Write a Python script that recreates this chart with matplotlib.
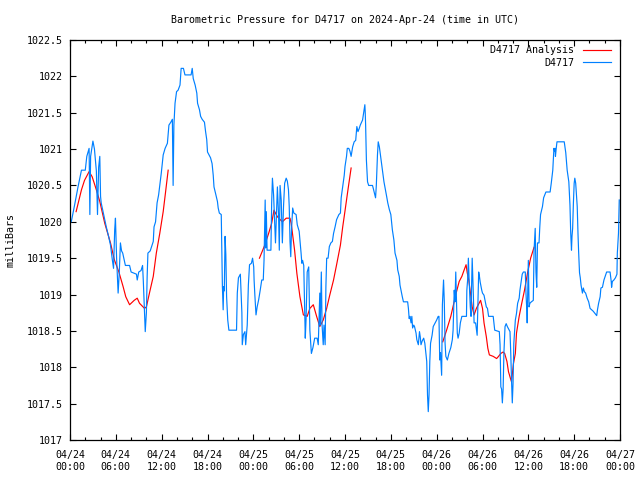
import numpy as np
import matplotlib
matplotlib.use('Agg')
from matplotlib import pyplot as plt
import matplotlib.dates as mdates

#--données (heures depuis 2024-04-24 00:00 UTC, mbar)-------------------------
h_obs = [0.0, 0.17, 0.6, 1.05, 1.5, 2.0, 2.2, 2.5, 2.6, 2.7, 3.0, 3.2, 3.45, 3.6, 3.75, 3.9,
         4.0, 4.1, 4.4, 4.75, 5.05, 5.3, 5.55, 5.7, 5.85, 5.95, 6.1, 6.3, 6.45, 6.6, 6.75, 6.9,
         7.25, 7.8, 8.0, 8.7, 8.8, 9.0, 9.3, 9.5, 9.6, 9.75, 9.85, 10.0, 10.1, 10.2, 10.5, 10.9,
         11.0, 11.2, 11.4, 11.6, 11.75, 11.95, 12.2, 12.45, 12.75, 12.95, 13.2, 13.4, 13.5, 13.6,
         13.75, 13.95, 14.15, 14.4, 14.55, 14.85, 15.05, 15.85, 16.0, 16.15, 16.4, 16.6, 16.7,
         16.95, 17.1, 17.3, 17.6, 17.75, 17.9, 18.0, 18.2, 18.4, 18.6, 18.75, 18.85, 19.0, 19.1,
         19.3, 19.4, 19.55, 19.8, 19.85, 19.95, 20.05, 20.12, 20.2, 20.3, 20.4, 20.5, 20.65, 20.8,
         21.8, 21.9, 22.05, 22.3, 22.4, 22.5, 22.55, 22.7, 22.9, 23.0, 23.2, 23.35, 23.5, 23.75,
         23.9, 24.05, 24.1, 24.2, 24.35, 24.5, 24.7, 24.9, 25.1, 25.3, 25.4, 25.5, 25.55, 25.62,
         25.7, 25.8, 26.3, 26.4, 26.5, 26.65, 26.9, 27.0, 27.15, 27.3, 27.4, 27.5, 27.65, 27.8,
         27.95, 28.1, 28.3, 28.45, 28.6, 28.7, 28.8, 28.9, 29.0, 29.15, 29.3, 29.6, 29.75, 30.0,
         30.1, 30.25, 30.35, 30.45, 30.6, 30.7, 30.8, 30.9, 31.05, 31.25, 31.3, 31.4, 31.6, 31.8,
         32.05, 32.35, 32.5, 32.7, 32.78, 32.9, 33.0, 33.15, 33.25, 33.4, 33.5, 33.6, 33.8, 33.95,
         34.15, 34.35, 34.5, 34.7, 34.9, 35.2, 35.4, 35.5, 35.7, 35.9, 36.0, 36.2, 36.3, 36.5,
         36.65, 36.8, 37.0, 37.2, 37.4, 37.5, 37.55, 37.7, 37.85, 38.0, 38.3, 38.5, 38.6, 38.65,
         38.7, 38.8, 38.95, 39.1, 39.6, 39.7, 39.9, 40.0, 40.1, 40.25, 40.35, 40.5, 40.6, 40.8,
         41.0, 41.1, 41.3, 41.45, 41.6, 41.8, 42.0, 42.2, 42.4, 42.55, 42.8, 42.9, 43.1, 43.2,
         43.35, 43.5, 43.65, 44.2, 44.3, 44.4, 44.5, 44.65, 44.75, 44.85, 45.0, 45.1, 45.3, 45.4,
         45.6, 45.75, 45.85, 45.95, 46.1, 46.3, 46.45, 46.7, 46.8, 46.9, 47.0, 47.1, 47.2, 47.4,
         47.55, 47.75, 48.0, 48.2, 48.3, 48.4, 48.5, 48.65, 48.75, 48.9, 49.0, 49.1, 49.2, 49.4,
         49.6, 49.85, 50.05, 50.15, 50.3, 50.4, 50.5, 50.6, 50.7, 50.8, 50.95, 51.1, 51.3, 51.9,
         51.95, 52.05, 52.15, 52.25, 52.4, 52.5, 52.55, 52.65, 52.8, 52.9, 53.1, 53.3, 53.4, 53.5,
         53.6, 53.7, 53.9, 54.0, 54.2, 54.5, 54.65, 54.8, 55.4, 55.5, 55.6, 56.2, 56.3, 56.4, 56.5,
         56.6, 56.7, 56.8, 56.95, 57.1, 57.25, 57.5, 57.6, 57.7, 57.8, 57.9, 58.0, 58.1, 58.3,
         58.45, 58.6, 58.8, 58.9, 59.2, 59.35, 59.6, 59.7, 59.8, 59.85, 60.0, 60.1, 60.2, 60.4,
         60.65, 60.75, 60.9, 61.0, 61.1, 61.2, 61.4, 61.5, 61.6, 61.85, 62.0, 62.3, 62.85, 63.0,
         63.2, 63.35, 63.45, 63.5, 63.55, 63.65, 63.75, 64.7, 64.9, 65.1, 65.3, 65.45, 65.55,
         65.65, 65.72, 65.8, 65.9, 66.0, 66.1, 66.2, 66.4, 66.5, 66.6, 66.7, 66.8, 66.9, 67.1,
         67.2, 67.35, 67.5, 67.7, 67.9, 68.1, 68.3, 68.5, 68.95, 69.05, 69.2, 69.4, 69.5, 69.7,
         69.9, 70.25, 70.7, 70.85, 70.9, 71.0, 71.2, 71.4, 71.6, 71.65, 71.8, 71.9]
p_obs = [1020.0, 1020.0, 1020.23, 1020.48, 1020.71, 1020.71, 1020.9, 1021.01, 1020.1, 1020.9,
         1021.11, 1021.0, 1020.7, 1020.1, 1020.75, 1020.9, 1020.35, 1020.26, 1020.1, 1019.93,
         1019.8, 1019.68, 1019.47, 1019.36, 1019.89, 1020.05, 1019.5, 1019.02, 1019.3, 1019.71,
         1019.6, 1019.57, 1019.4, 1019.4, 1019.31, 1019.28, 1019.2, 1019.31, 1019.33, 1019.4,
         1019.18, 1018.75, 1018.49, 1018.75, 1019.25, 1019.57, 1019.6, 1019.73, 1019.93, 1020.0,
         1020.26, 1020.37, 1020.5, 1020.67, 1020.92, 1021.01, 1021.08, 1021.33, 1021.37, 1021.41,
         1020.5, 1021.33, 1021.63, 1021.79, 1021.81, 1021.88, 1022.11, 1022.11, 1022.02, 1022.02,
         1022.11, 1021.97, 1021.88, 1021.77, 1021.63, 1021.54, 1021.45, 1021.41, 1021.37, 1021.24,
         1021.13, 1020.96, 1020.92, 1020.88, 1020.8, 1020.64, 1020.48, 1020.41, 1020.37, 1020.28,
         1020.19, 1020.12, 1020.1, 1019.78, 1019.11, 1018.79, 1019.11, 1019.05, 1019.8, 1019.55,
         1018.97, 1018.65, 1018.51, 1018.51, 1019.02, 1019.23, 1019.28, 1019.02, 1018.75, 1018.31,
         1018.45, 1018.49, 1018.31, 1018.58, 1019.13, 1019.41, 1019.43, 1019.5, 1019.38, 1019.2,
         1018.99, 1018.72, 1018.83, 1018.93, 1019.06, 1019.2, 1019.2, 1019.47, 1020.03, 1020.3,
         1019.64, 1020.14, 1019.61, 1019.61, 1020.26, 1020.6, 1020.37, 1019.71, 1020.03, 1020.48,
         1020.1, 1019.61, 1020.5, 1020.3, 1019.71, 1020.21, 1020.53, 1020.6, 1020.56, 1020.44,
         1020.21, 1019.73, 1019.52, 1019.89, 1020.19, 1020.12, 1020.1, 1019.96, 1019.87, 1019.75,
         1019.57, 1019.43, 1019.47, 1019.4, 1018.93, 1018.4, 1018.65, 1019.31, 1019.38, 1019.1,
         1018.51, 1018.19, 1018.27, 1018.4, 1018.4, 1018.31, 1019.02, 1018.58, 1019.31, 1018.58,
         1018.31, 1018.58, 1018.31, 1019.11, 1019.5, 1019.5, 1019.66, 1019.71, 1019.73, 1019.84,
         1019.93, 1020.03, 1020.1, 1020.12, 1020.33, 1020.48, 1020.64, 1020.76, 1020.9, 1021.01,
         1021.01, 1020.97, 1020.9, 1021.03, 1021.1, 1021.12, 1021.26, 1021.31, 1021.24, 1021.28,
         1021.33, 1021.4, 1021.54, 1021.61, 1021.5, 1021.33, 1020.85, 1020.55, 1020.5, 1020.5,
         1020.46, 1020.37, 1020.33, 1020.5, 1020.92, 1021.1, 1021.03, 1020.95, 1020.78, 1020.64,
         1020.55, 1020.44, 1020.35, 1020.26, 1020.17, 1020.1, 1019.89, 1019.75, 1019.57, 1019.47,
         1019.34, 1019.25, 1019.13, 1019.05, 1018.97, 1018.9, 1018.9, 1018.81, 1018.67, 1018.7,
         1018.61, 1018.7, 1018.54, 1018.58, 1018.56, 1018.47, 1018.38, 1018.31, 1018.49, 1018.42,
         1018.31, 1018.36, 1018.4, 1018.33, 1018.08, 1017.62, 1017.39, 1017.62, 1018.08, 1018.33,
         1018.44, 1018.56, 1018.6, 1018.65, 1018.7, 1018.7, 1018.1, 1018.2, 1017.89, 1018.86,
         1019.2, 1018.9, 1018.33, 1018.15, 1018.1, 1018.19, 1018.27, 1018.38, 1018.51, 1019.06,
         1018.9, 1019.31, 1018.9, 1018.47, 1018.4, 1018.47, 1018.61, 1018.7, 1018.7, 1019.06,
         1019.2, 1019.5, 1019.2, 1018.83, 1018.7, 1019.0, 1019.5, 1019.0, 1018.61, 1018.61,
         1018.44, 1018.86, 1019.31, 1019.25, 1019.17, 1019.06, 1019.02, 1018.99, 1018.83, 1018.81,
         1018.7, 1018.7, 1018.61, 1018.51, 1018.49, 1018.31, 1017.73, 1017.7, 1017.51, 1017.7,
         1018.19, 1018.56, 1018.6, 1018.56, 1018.51, 1018.49, 1018.19, 1017.82, 1017.51, 1017.78,
         1018.33, 1018.65, 1018.74, 1018.88, 1018.95, 1019.06, 1019.28, 1019.31, 1019.31, 1019.0,
         1018.79, 1018.61, 1019.47, 1018.83, 1018.88, 1018.9, 1018.92, 1019.61, 1019.91, 1019.31,
         1019.1, 1019.71, 1019.71, 1019.93, 1020.1, 1020.21, 1020.33, 1020.41, 1020.41, 1020.53,
         1020.71, 1021.01, 1020.97, 1021.01, 1020.9, 1021.01, 1021.1, 1021.1, 1020.95, 1020.71,
         1020.55, 1020.23, 1019.84, 1019.61, 1019.8, 1019.91, 1020.26, 1020.53, 1020.6, 1020.53,
         1020.21, 1019.84, 1019.59, 1019.3, 1019.23, 1019.13, 1019.02, 1019.09, 1019.04, 1019.02,
         1018.95, 1018.9, 1018.81, 1018.79, 1018.77, 1018.71, 1018.79, 1018.88, 1018.97, 1019.09,
         1019.1, 1019.2, 1019.31, 1019.31, 1019.18, 1019.1, 1019.18, 1019.2, 1019.23, 1019.28,
         1019.57, 1019.84, 1020.3]

#--analyse (3 morceaux)-----------
h_an1 = [0.8, 1.5, 1.9, 2.5, 2.9, 3.45, 3.9, 4.55, 5.3, 5.8, 6.4, 6.95, 7.3, 7.8, 8.4, 8.8, 9.1,
         9.75, 10.0, 10.4, 10.9, 11.3, 11.75, 12.2, 12.5, 12.85]
p_an1 = [1020.14, 1020.44, 1020.57, 1020.69, 1020.62, 1020.44, 1020.28, 1019.98, 1019.71, 1019.48,
         1019.31, 1019.11, 1018.97, 1018.86, 1018.92, 1018.95, 1018.88, 1018.81, 1018.83, 1019.02,
         1019.25, 1019.57, 1019.84, 1020.14, 1020.4, 1020.71]
h_an2 = [24.8, 25.5, 26.0, 26.4, 26.7, 27.15, 27.8, 28.3, 28.8, 28.95, 29.1, 29.4, 29.7, 30.1,
         30.55, 31.05, 31.4, 31.85, 32.3, 32.7, 33.15, 33.6, 34.0, 34.5, 34.9, 35.4, 35.7, 36.0,
         36.4, 36.8]
p_an2 = [1019.5, 1019.68, 1019.84, 1019.98, 1020.16, 1020.07, 1020.0, 1020.05, 1020.05, 1019.98,
         1019.86, 1019.61, 1019.29, 1018.97, 1018.72, 1018.7, 1018.81, 1018.86, 1018.7, 1018.56,
         1018.65, 1018.81, 1018.99, 1019.2, 1019.41, 1019.68, 1019.93, 1020.15, 1020.45, 1020.74]
h_an3 = [48.8, 49.3, 49.85, 50.2, 50.5, 50.95, 51.3, 51.5, 51.85, 52.0, 52.2, 52.4, 52.65, 52.9,
         53.2, 53.55, 53.75, 54.0, 54.2, 54.5, 54.7, 54.9, 55.4, 55.85, 56.1, 56.4, 56.7, 56.9,
         57.2, 57.4, 57.65, 57.8, 58.05, 58.3, 58.45, 58.8, 59.1, 59.5, 59.9, 60.3, 60.75]
p_an3 = [1018.35, 1018.51, 1018.7, 1018.86, 1019.0, 1019.18, 1019.25, 1019.31, 1019.41, 1019.3,
         1019.2, 1019.04, 1018.83, 1018.72, 1018.81, 1018.88, 1018.92, 1018.81, 1018.61, 1018.42,
         1018.26, 1018.17, 1018.15, 1018.12, 1018.15, 1018.19, 1018.21, 1018.19, 1018.08, 1017.94,
         1017.85, 1017.8, 1018.05, 1018.19, 1018.47, 1018.7, 1018.86, 1019.06, 1019.3, 1019.5,
         1019.65]

t0 = np.datetime64('2024-04-24T00:00')
def to_dates(h):
    return t0 + (np.array(h) * 60).astype('timedelta64[m]')

plt.rcParams['font.family'] = 'DejaVu Sans Mono'
plt.rcParams['font.size'] = 7.2

fig = plt.figure(figsize=(6.4, 4.8), dpi=100)
ax = fig.add_axes([70/640, 40/480, 550/640, 400/480])

#---------courbes---------
ax.plot(to_dates(h_an1), p_an1, color='#ff0000', lw=0.85, label='D4717 Analysis')
ax.plot(to_dates(h_an2), p_an2, color='#ff0000', lw=0.85)
ax.plot(to_dates(h_an3), p_an3, color='#ff0000', lw=0.85)
ax.plot(to_dates(h_obs), p_obs, color='#0080ff', lw=0.85, label='D4717')

ax.set_xlim(t0, t0 + np.timedelta64(72, 'h'))
ax.set_ylim(1017, 1022.5)
ax.xaxis.set_major_locator(mdates.HourLocator(byhour=[0, 6, 12, 18]))
ax.xaxis.set_minor_locator(mdates.HourLocator(byhour=range(0, 24, 2)))
ax.xaxis.set_major_formatter(mdates.DateFormatter('%m/%d\n%H:%M'))
yt = np.arange(1017, 1022.51, 0.5)
ax.set_yticks(yt)
ax.set_yticklabels(['%g' % v for v in yt])
ax.tick_params(which='both', direction='in', top=True, right=True, width=0.8)
ax.tick_params(which='major', length=4, pad=5)
ax.tick_params(axis='x', which='major', pad=7)
ax.tick_params(which='minor', length=2)
for lab in ax.get_xticklabels():
    lab.set_linespacing(1.3)
for s in ax.spines.values():
    s.set_linewidth(0.9)

ax.set_title('Barometric Pressure for D4717 on 2024-Apr-24 (time in UTC)', fontsize=7.2, pad=12)
ax.set_ylabel('milliBars', labelpad=8)
ax.legend(loc='upper right', bbox_to_anchor=(1, 1.01), frameon=False, markerfirst=False,
          handlelength=2.8, handletextpad=0.8, labelspacing=0.25, borderaxespad=0.55)

fig.savefig('out.png', dpi=100)
